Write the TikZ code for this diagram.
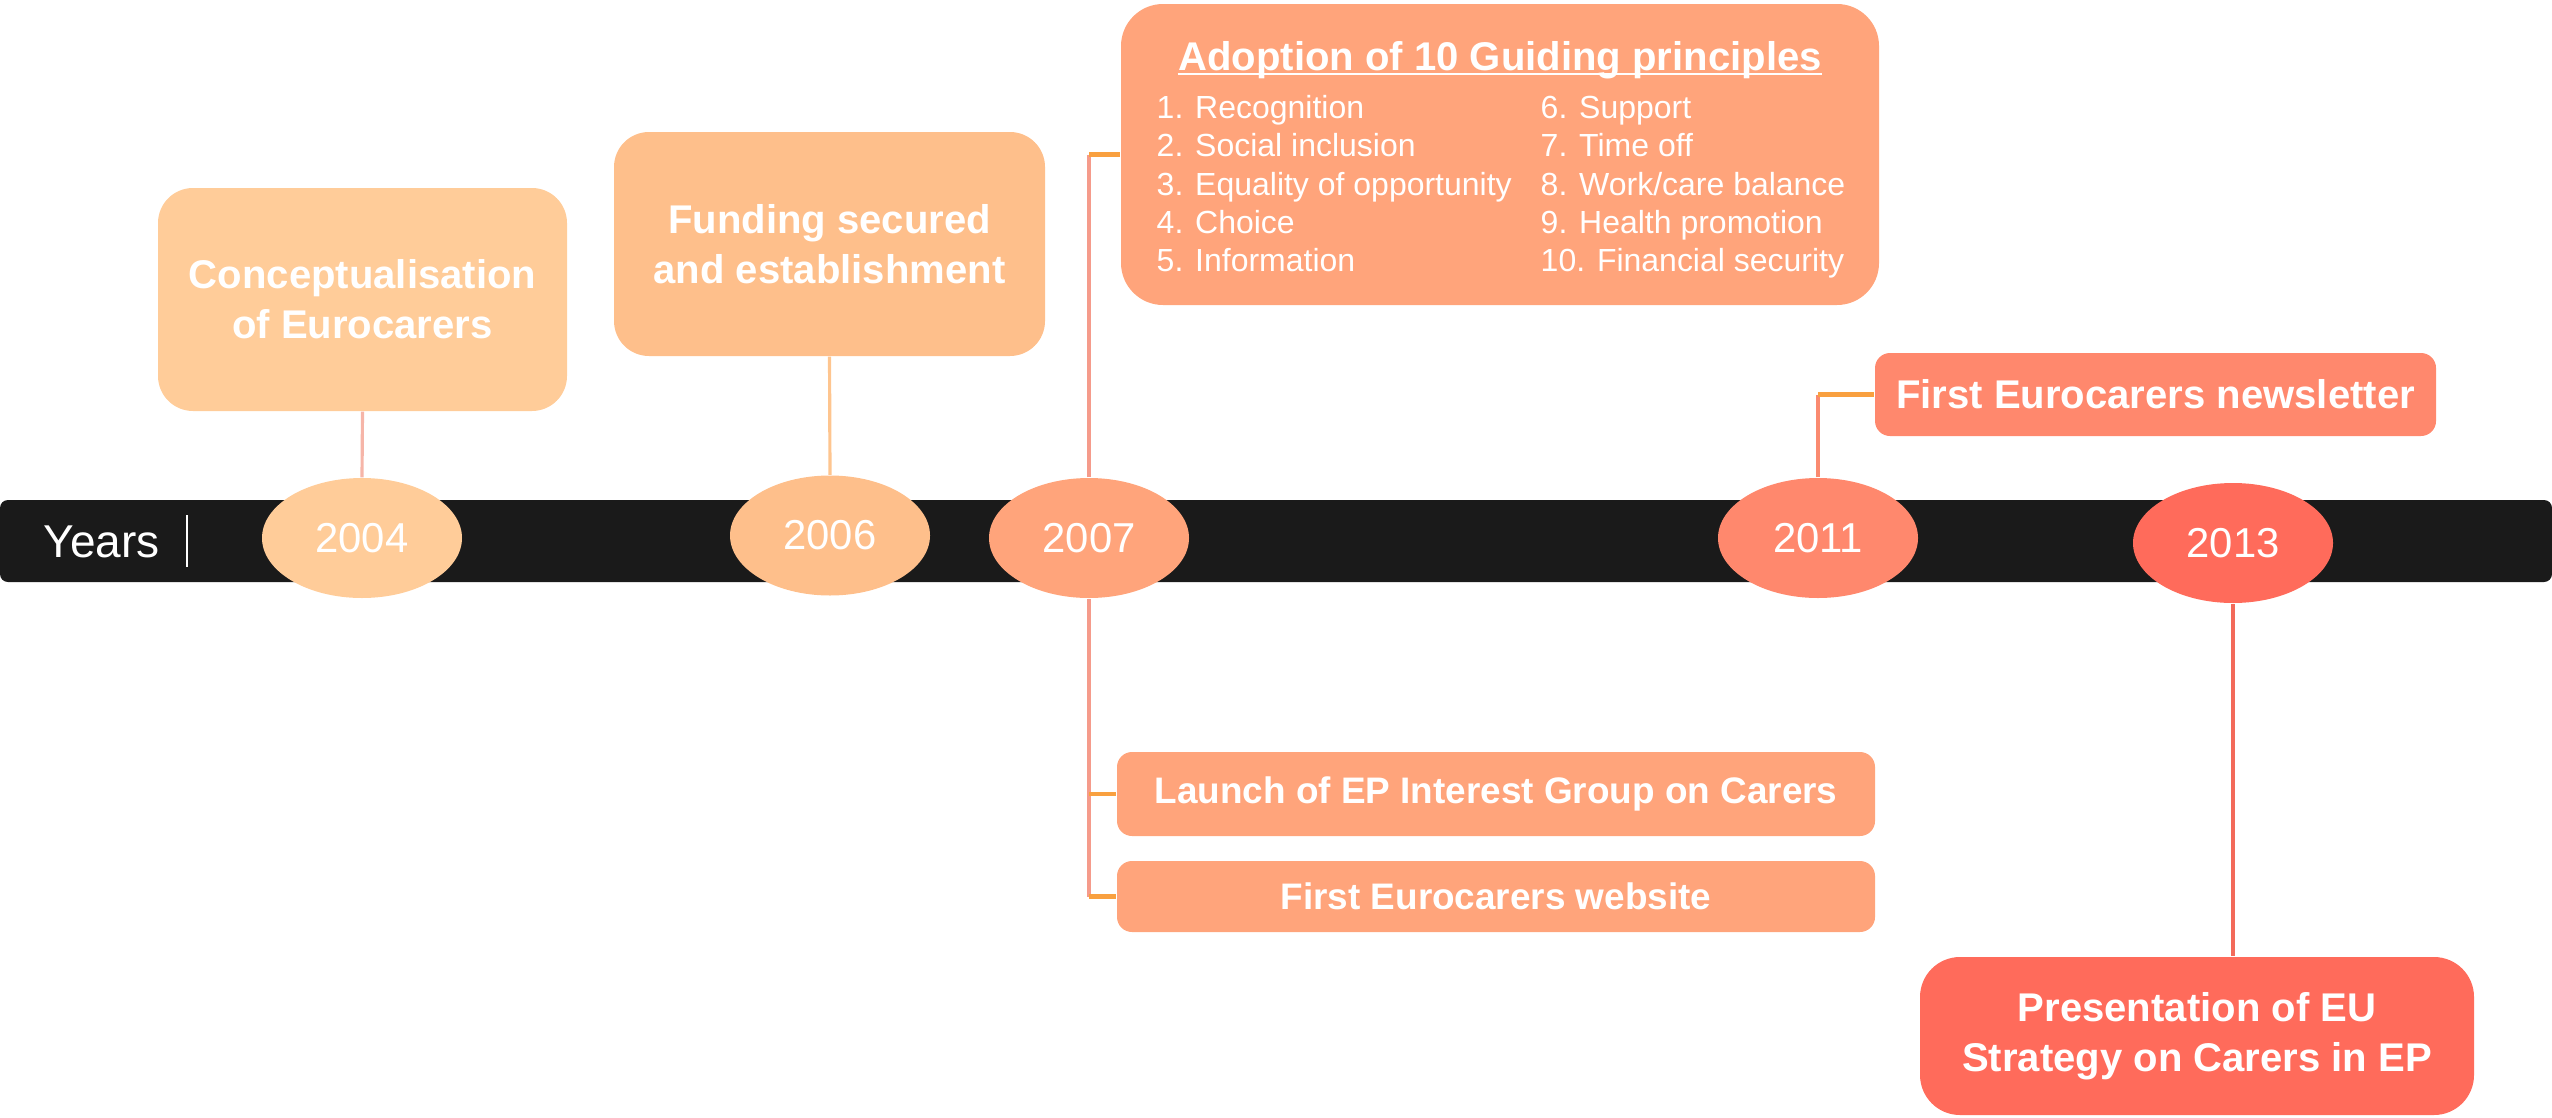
\documentclass[tikz,border=0pt]{standalone}
\usepackage{fontspec}
\setmainfont{Liberation Sans}
\usetikzlibrary{shapes.geometric}

\definecolor{barblack}{HTML}{1A1A1A}
\definecolor{peach}{HTML}{FFCC99}
\definecolor{apricot}{HTML}{FEBF8B}
\definecolor{salmon}{HTML}{FFA47B}
\definecolor{coral}{HTML}{FF886D}
\definecolor{tomato}{HTML}{FF6B5B}
\definecolor{stubcol}{HTML}{F9A03F}
\definecolor{pinkline}{HTML}{F6B5A8}
\definecolor{apline}{HTML}{FEC58F}
\definecolor{salline}{HTML}{F59B8B}
\definecolor{corline}{HTML}{FA8A70}
\definecolor{tomline}{HTML}{F36A5A}

\begin{document}
\begin{tikzpicture}[
  year/.style={ellipse,fill=#1,minimum width=2cm,minimum height=1.2cm,inner sep=0pt,text=white,font=\fontsize{11.9}{12}\selectfont},
  event/.style={rectangle,rounded corners=0.35cm,fill=#1,text=white,align=center,inner sep=0pt,font=\fontsize{11.4}{14.2}\selectfont\bfseries},
  smalltext/.style={font=\fontsize{10.5}{14.2}\selectfont\bfseries},
  headline/.style={anchor=base,inner sep=0pt,text=white,font=\fontsize{11.4}{14.2}\selectfont\bfseries},
  item/.style={anchor=base west,inner sep=0pt,text=white,font=\fontsize{9.1}{10}\selectfont},
  link/.style={draw=#1,line width=0.9pt},
  stubline/.style={draw=stubcol,line width=1.4pt}
]
\useasboundingbox (0,0) rectangle (25.52,-11.17);

% timeline bar
\fill[barblack,rounded corners=0.08cm] (0,-5.00) rectangle (25.52,-5.82);
\node[anchor=base west,inner sep=0pt,text=white,font=\fontsize{13.1}{14}\selectfont] (yrs) at (0.43,-5.57) {Years};
\draw[white,line width=0.6pt] (1.87,-5.15) -- (1.87,-5.67);

% years
\node[year=peach] (y2004) at (3.62,-5.38) {2004};
\node[year=apricot] (y2006) at (8.30,-5.355) {2006};
\node[year=salmon] (y2007) at (10.89,-5.38) {2007};
\node[year=coral] (y2011) at (18.18,-5.38) {2011};
\node[year=tomato] (y2013) at (22.33,-5.43) {2013};

% events
\node[event=peach,minimum width=4.09cm,minimum height=2.23cm] (concept) at (3.625,-2.995) {Conceptualisation\\of Eurocarers};
\node[event=apricot,minimum width=4.31cm,minimum height=2.24cm] (funding) at (8.295,-2.44) {Funding secured\\and establishment};
\node[event=salmon,rounded corners=0.42cm,minimum width=7.58cm,minimum height=3.01cm] (adopt) at (15.00,-1.545) {};
\node[event=coral,rounded corners=0.15cm,minimum width=5.61cm,minimum height=0.83cm] (news) at (21.555,-3.945) {First Eurocarers newsletter};
\node[event=salmon,smalltext,rounded corners=0.15cm,minimum width=7.58cm,minimum height=0.84cm] (launch) at (14.96,-7.94) {Launch of EP Interest Group on Carers};
\node[event=salmon,smalltext,rounded corners=0.15cm,minimum width=7.58cm,minimum height=0.71cm] (web) at (14.96,-8.965) {First Eurocarers website};
\node[event=tomato,rounded corners=0.4cm,minimum width=5.54cm,minimum height=1.58cm] (present) at (21.97,-10.36) {Presentation of EU\\Strategy on Carers in EP};

% guiding principles
\node[headline] (ttl) at (15.00,-0.70) {Adoption of 10 Guiding principles};
\draw[white,line width=0.7pt] ([yshift=-0.04cm]ttl.base west) -- ([yshift=-0.04cm]ttl.base east);
\node[item] (p1) at (11.56,-1.18) {1. Recognition};
\node[item] (p2) at (11.56,-1.565) {2. Social inclusion};
\node[item] (p3) at (11.56,-1.95) {3. Equality of opportunity};
\node[item] (p4) at (11.56,-2.33) {4. Choice};
\node[item] (p5) at (11.56,-2.71) {5. Information};
\node[item] (p6) at (15.40,-1.18) {6. Support};
\node[item] (p7) at (15.40,-1.565) {7. Time off};
\node[item] (p8) at (15.40,-1.95) {8. Work/care balance};
\node[item] (p9) at (15.40,-2.33) {9. Health promotion};
\node[item] (p10) at (15.40,-2.71) {10. Financial security};

% connectors
\draw[link=pinkline] (concept.south) -- (y2004.north);
\draw[link=apline] (funding.south) -- (y2006.north);
\draw[link=salline] (y2007.north) -- (y2007.north |- adopt.west);
\draw[stubline] (y2007.north |- adopt.west) -- (adopt.west);
\draw[link=salline] (y2007.south) -- (y2007.south |- web.west);
\draw[stubline] (y2007.south |- launch.west) -- (launch.west);
\draw[stubline] (y2007.south |- web.west) -- (web.west);
\draw[link=corline] (y2011.north) -- (y2011.north |- news.west);
\draw[stubline] (y2011.north |- news.west) -- (news.west);
\draw[link=tomline] (y2013.south) -- (y2013.south |- present.north);
\end{tikzpicture}
\end{document}
